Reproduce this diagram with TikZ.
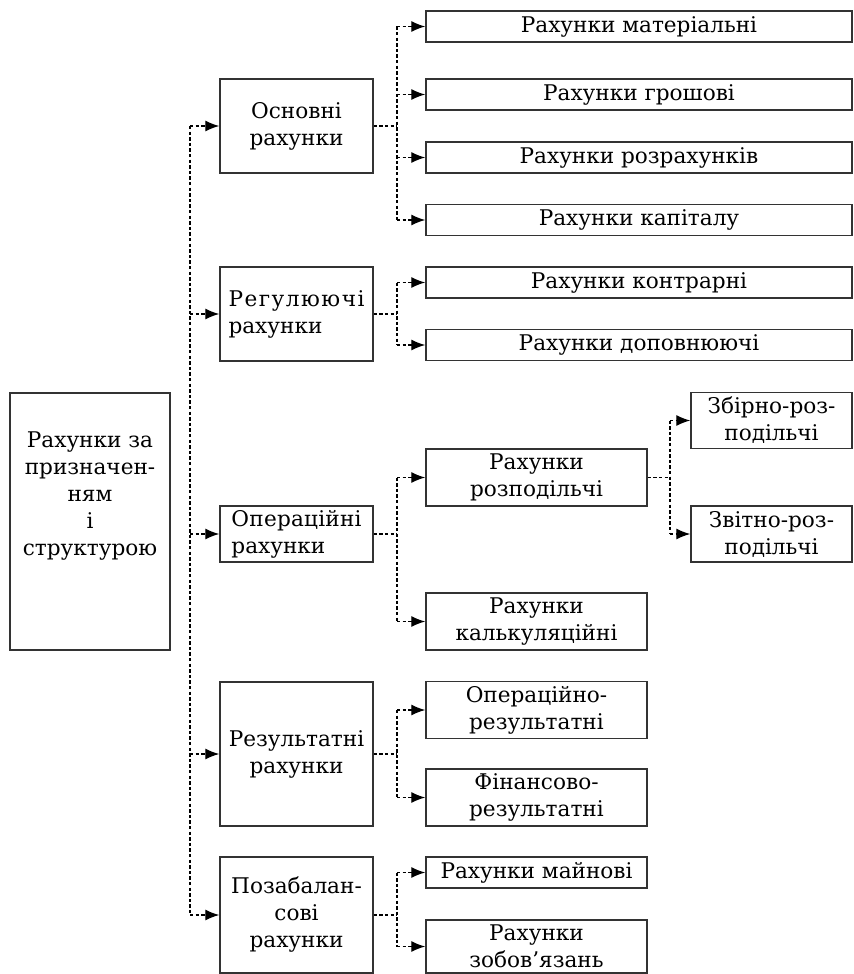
\documentclass[tikz,border=0pt]{standalone}
\usepackage{fontspec}
\setmainfont{DejaVu Serif}
\usetikzlibrary{arrows.meta, calc}

\begin{document}
\begin{tikzpicture}[x=0.5pt, y=-0.5pt,
    every node/.style={font=\fontsize{10.8}{13.5}\selectfont},
    box/.style={draw=black!80, line width=0.75pt, align=center, inner sep=1pt},
    lvlone/.style={box, minimum width=76.5pt},
    wide/.style={box, minimum width=213pt, minimum height=15.5pt},
    narrow/.style={box, minimum width=110.5pt, minimum height=28.5pt},
    sub/.style={box, minimum width=80.5pt, minimum height=28pt},
    link/.style={line width=0.6pt, dash pattern=on 1.7pt off 1.1pt},
    flow/.style={link, -{Latex[length=7pt, width=5.5pt]}}]
  \useasboundingbox (0,0) rectangle (853,974);
  % --- korin: rakhunky za pryznachenniam ---
  \node[box, minimum width=80pt, minimum height=128.5pt,
        label={[align=center, yshift=12.5pt]center:Рахунки за\\призначен-\\ням\\і\\структурою}]
        (root) at (90,521.5) {};
  % --- pershyi riven ---
  \node[lvlone, minimum height=47pt] (osn)  at (296.5,126)   {Основні\\рахунки};
  \node[lvlone, minimum height=47pt, align=left] (reg) at (296.5,314)
        {\addfontfeature{LetterSpace=7}Регулюючі\\рахунки};
  \node[lvlone, minimum height=28pt, align=left] (oper) at (296.5,534)
        {\addfontfeature{LetterSpace=1}Операційні\\рахунки};
  \node[lvlone, minimum height=72pt] (rez)  at (296.5,754)   {Результатні\\рахунки};
  \node[lvlone, minimum height=58pt] (poza) at (296.5,915)   {Позабалан-\\сові\\рахунки};
  % --- druhyi riven ---
  \node[wide] (mat)   at (639,26.5)  {Рахунки матеріальні};
  \node[wide] (grosh) at (639,94.5)  {Рахунки грошові};
  \node[wide] (rozr)  at (639,157.5) {Рахунки розрахунків};
  \node[wide] (kap)   at (639,220)   {Рахунки капіталу};
  \node[wide] (kontr) at (639,282.5) {Рахунки контрарні};
  \node[wide] (dop)   at (639,345)   {Рахунки доповнюючі};
  \node[narrow] (rozp)   at (536.5,477.5) {Рахунки\\розподільчі};
  \node[narrow] (kalk)   at (536.5,621.5) {Рахунки\\калькуляційні};
  \node[narrow] (oprez)  at (536.5,710)   {Операційно-\\результатні};
  \node[narrow] (finrez) at (536.5,797.5) {Фінансово-\\результатні};
  \node[narrow, minimum height=15.5pt] (main) at (536.5,872.5) {Рахунки майнові};
  \node[narrow, minimum height=26.5pt] (zob)  at (536.5,946.5) {Рахунки\\зобов’язань};
  % --- tretii riven ---
  \node[sub] (zbir) at (771.5,420.5) {Збірно-роз-\\подільчі};
  \node[sub] (zvit) at (771.5,534)   {Звітно-роз-\\подільчі};

  % --- vertykalni shyny ---
  \coordinate (tr) at (190,0);
  \coordinate (br) at (397,0);
  \coordinate (bz) at (670,0);

  \draw[link] (osn.west -| tr) -- (poza.west -| tr);
  \draw[flow] (osn.west -| tr)  -- (osn.west);
  \draw[flow] (reg.west -| tr)  -- (reg.west);
  \draw[flow] (oper.west -| tr) -- (oper.west);
  \draw[flow] (rez.west -| tr)  -- (rez.west);
  \draw[flow] (poza.west -| tr) -- (poza.west);

  % --- osnovni ---
  \draw[link] (osn.east) -- (osn.east -| br);
  \draw[link] (mat.west -| br) -- (kap.west -| br);
  \draw[flow] (mat.west -| br)   -- (mat.west);
  \draw[flow] (grosh.west -| br) -- (grosh.west);
  \draw[flow] (rozr.west -| br)  -- (rozr.west);
  \draw[flow] (kap.west -| br)   -- (kap.west);
  % --- rehuliuiuchi ---
  \draw[link] (reg.east) -- (reg.east -| br);
  \draw[link] (kontr.west -| br) -- (dop.west -| br);
  \draw[flow] (kontr.west -| br) -- (kontr.west);
  \draw[flow] (dop.west -| br)   -- (dop.west);
  % --- operatsiini ---
  \draw[link] (oper.east) -- (oper.east -| br);
  \draw[link] (rozp.west -| br) -- (kalk.west -| br);
  \draw[flow] (rozp.west -| br) -- (rozp.west);
  \draw[flow] (kalk.west -| br) -- (kalk.west);
  \draw[link] (rozp.east) -- (rozp.east -| bz);
  \draw[link] (zbir.west -| bz) -- (zvit.west -| bz);
  \draw[flow] (zbir.west -| bz) -- (zbir.west);
  \draw[flow] (zvit.west -| bz) -- (zvit.west);
  % --- rezultatni ---
  \draw[link] (rez.east) -- (rez.east -| br);
  \draw[link] (oprez.west -| br) -- (finrez.west -| br);
  \draw[flow] (oprez.west -| br)  -- (oprez.west);
  \draw[flow] (finrez.west -| br) -- (finrez.west);
  % --- pozabalansovi ---
  \draw[link] (poza.east) -- (poza.east -| br);
  \draw[link] (main.west -| br) -- (zob.west -| br);
  \draw[flow] (main.west -| br) -- (main.west);
  \draw[flow] (zob.west -| br)  -- (zob.west);
\end{tikzpicture}
\end{document}
